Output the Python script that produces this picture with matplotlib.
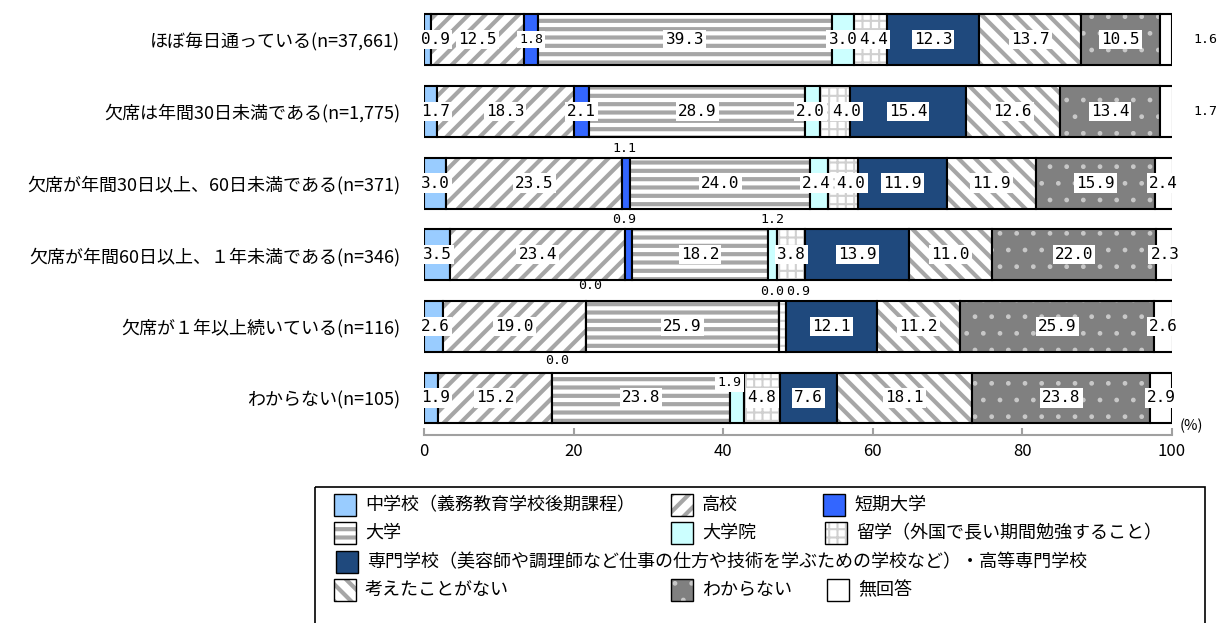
import numpy as np
import matplotlib.pyplot as plt
from matplotlib.patches import Rectangle

plt.rcParams['font.family'] = ['Noto Sans CJK JP', 'DejaVu Sans']

# rows (top to bottom)
groups = ['ほぼ毎日通っている(n=37,661)',
          '欠席は年間30日未満である(n=1,775)',
          '欠席が年間30日以上、60日未満である(n=371)',
          '欠席が年間60日以上、１年未満である(n=346)',
          '欠席が１年以上続いている(n=116)',
          'わからない(n=105)']

series_names = ['中学校（義務教育学校後期課程）', '高校', '短期大学', '大学', '大学院',
                '留学（外国で長い期間勉強すること）',
                '専門学校（美容師や調理師など仕事の仕方や技術を学ぶための学校など）・高等専門学校',
                '考えたことがない', 'わからない', '無回答']

chugakko = [0.9, 1.7, 3.0, 3.5, 2.6, 1.9]
koko = [12.5, 18.3, 23.5, 23.4, 19.0, 15.2]
tanki = [1.8, 2.1, 1.1, 0.9, 0.0, 0.0]
daigaku = [39.3, 28.9, 24.0, 18.2, 25.9, 23.8]
daigakuin = [3.0, 2.0, 2.4, 1.2, 0.0, 1.9]
ryugaku = [4.4, 4.0, 4.0, 3.8, 0.9, 4.8]
senmon = [12.3, 15.4, 11.9, 13.9, 12.1, 7.6]
kangaeta = [13.7, 12.6, 11.9, 11.0, 11.2, 18.1]
wakaranai = [10.5, 13.4, 15.9, 22.0, 25.9, 23.8]
mukaito = [1.6, 1.7, 2.4, 2.3, 2.6, 2.9]

values = np.array([chugakko, koko, tanki, daigaku, daigakuin, ryugaku,
                   senmon, kangaeta, wakaranai, mukaito]).T  # [row, series]

# face colour, hatch, hatch colour, hatch linewidth
styles = [('#99CCFF', None, None, 1),
          ('white', '//', '#A6A6A6', 3.0),
          ('#3366FF', None, None, 1),
          ('white', '--', '#A6A6A6', 3.0),
          ('#CCFFFF', None, None, 1),
          ('white', '++', '#D0D0D0', 1.5),
          ('#1F497D', None, None, 1),
          ('white', '\\\\', '#A6A6A6', 3.0),
          ('#808080', '.', '#C8C8C8', 1),
          ('white', None, None, 1)]

# label placement exceptions: (row, series) -> (mode, dx, dy)
special = {(0, 2): ('small', 0, 0),
           (0, 9): ('right', 0, 0), (1, 9): ('right', 0, 0),
           (1, 4): ('normal', -0.3, 0), (1, 5): ('normal', 1.5, 0),
           (2, 4): ('normal', -0.3, 0), (2, 5): ('normal', 1.1, 0),
           (0, 5): ('normal', 0.4, 0),
           (2, 2): ('above', -0.3, 0), (3, 2): ('above', -0.6, 0),
           (3, 4): ('above', 0, 0), (4, 2): ('above', 0.6, -0.08),
           (4, 4): ('above', -1.0, 0), (4, 5): ('above', 2.0, 0),
           (5, 2): ('above', 0.7, -0.04), (5, 4): ('small', -1.0, -0.21)}

num_font = ['DejaVu Sans Mono']

W, H = 1229, 623
fig = plt.figure(figsize=(W / 100, H / 100), dpi=100)
ax = fig.add_axes([424 / W, 1 - 435 / H, 748 / W, 431 / H])

y = np.arange(len(groups))
bh = 0.71
left = np.zeros(len(groups))
for j, (face, hatch, hcol, hlw) in enumerate(styles):
    with plt.rc_context({'hatch.linewidth': hlw}):
        bars = ax.barh(y, values[:, j], left=left, height=bh, color=face,
                       hatch=hatch, edgecolor=hcol if hcol else face, linewidth=0)
    for b in bars:
        if hasattr(b, 'set_hatch_linewidth'):
            b.set_hatch_linewidth(hlw)
    ax.barh(y, values[:, j], left=left, height=bh, fill=False,
            edgecolor='black', linewidth=1.5)

    for i, v in enumerate(values[:, j]):
        cx = left[i] + v / 2
        if j == 0:
            cx = max(cx, 1.5)
        mode, dx, dy = special.get((i, j), ('normal', 0, 0))
        txt = f'{v:.1f}'
        if mode == 'normal':
            ax.text(cx + dx, i, txt, ha='center', va='center', fontsize=11.5,
                    family=num_font,
                    bbox=dict(facecolor='white', edgecolor='none', pad=1.5))
        elif mode == 'small':
            ax.text(cx + dx, i + dy, txt, ha='center', va='center', fontsize=9.5,
                    family=num_font,
                    bbox=dict(facecolor='white', edgecolor='none', pad=1.5))
        elif mode == 'above':
            ax.text(cx + dx, i - bh / 2 - 0.13 + dy, txt, ha='center',
                    va='center', fontsize=9.5, family=num_font)
        elif mode == 'right':
            ax.text(104.4, i, txt, ha='center', va='center', fontsize=9.5,
                    family=num_font)
    left += values[:, j]

ax.set_xlim(0, 100)
ax.set_ylim(len(groups) - 0.483, -0.5)
ax.set_yticks(y)
ax.set_yticklabels(groups, fontsize=13)
ax.tick_params(axis='y', length=0, pad=17)
ax.set_xticks(np.arange(0, 101, 20))
ax.tick_params(axis='x', direction='in', length=5, width=1.5, color='#A0A0A0',
               labelsize=12, pad=6)
for s in ['top', 'right', 'left']:
    ax.spines[s].set_visible(False)
ax.spines['bottom'].set_color('#A0A0A0')
ax.spines['bottom'].set_linewidth(1.5)
ax.text(1.01, 0.02, '(%)', transform=ax.transAxes, ha='left', va='center',
        fontsize=10.5)

# legend drawn in pixel space
lax = fig.add_axes([0, 0, 1, 1], zorder=-1)
lax.set_xlim(0, W)
lax.set_ylim(H, 0)
lax.axis('off')
lax.add_patch(Rectangle((315, 487), 890, 150, fill=False, edgecolor='black',
                        linewidth=1.2))
legend_pos = [(334, 505), (671, 505), (823, 505),
              (334, 533), (671, 533), (825, 533),
              (336, 562),
              (334, 590), (671, 590), (827, 590)]
for name, (face, hatch, hcol, hlw), (px, py) in zip(series_names, styles, legend_pos):
    with plt.rc_context({'hatch.linewidth': hlw}):
        p = Rectangle((px, py - 11), 22, 22, facecolor=face, hatch=hatch,
                      edgecolor=hcol if hcol else face, linewidth=0)
    lax.add_patch(p)
    lax.add_patch(Rectangle((px, py - 11), 22, 22, fill=False,
                            edgecolor='black', linewidth=1))
    lax.text(px + 31, py, name, ha='left', va='center', fontsize=13)

fig.savefig('out.png', dpi=100)
